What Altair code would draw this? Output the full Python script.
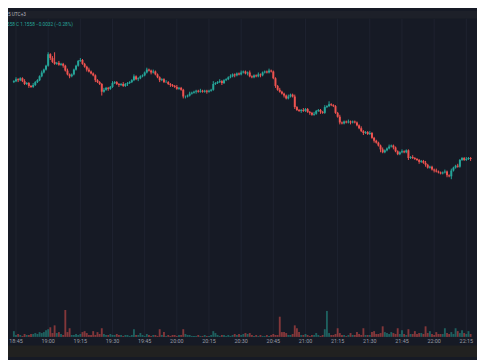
import altair as alt
import pandas as pd

# ---- data (1-minute candles, 18:44 .. 22:17) ----
start_minute = 44  # minutes after 18:00
first_open = 1.15660
closes = [
    1.15661, 1.15663, 1.15662, 1.15664, 1.15661, 1.15658, 1.15659, 1.15656, 1.15655, 1.15657,
    1.15660, 1.15662, 1.15666, 1.15670, 1.15673, 1.15677, 1.15689, 1.15685, 1.15681, 1.15679,
    1.15680, 1.15678, 1.15679, 1.15677, 1.15672, 1.15668, 1.15666, 1.15668, 1.15673, 1.15677,
    1.15682, 1.15683, 1.15679, 1.15676, 1.15673, 1.15671, 1.15669, 1.15667, 1.15662, 1.15660,
    1.15658, 1.15650, 1.15652, 1.15654, 1.15653, 1.15655, 1.15659, 1.15660, 1.15658, 1.15657,
    1.15658, 1.15656, 1.15658, 1.15659, 1.15660, 1.15662, 1.15666, 1.15663, 1.15664, 1.15666,
    1.15667, 1.15670, 1.15673, 1.15672, 1.15670, 1.15671, 1.15668, 1.15665, 1.15662, 1.15663,
    1.15660, 1.15660, 1.15658, 1.15657, 1.15656, 1.15655, 1.15653, 1.15654, 1.15652, 1.15645,
    1.15645, 1.15646, 1.15648, 1.15649, 1.15650, 1.15651, 1.15650, 1.15651, 1.15650, 1.15651,
    1.15650, 1.15651, 1.15652, 1.15658, 1.15659, 1.15660, 1.15661, 1.15659, 1.15662, 1.15663,
    1.15665, 1.15666, 1.15668, 1.15667, 1.15669, 1.15668, 1.15670, 1.15671, 1.15669, 1.15670,
    1.15666, 1.15665, 1.15667, 1.15666, 1.15668, 1.15667, 1.15670, 1.15671, 1.15670, 1.15672,
    1.15671, 1.15664, 1.15656, 1.15652, 1.15650, 1.15648, 1.15646, 1.15643, 1.15645, 1.15647,
    1.15645, 1.15634, 1.15631, 1.15630, 1.15631, 1.15630, 1.15632, 1.15629, 1.15628, 1.15626,
    1.15627, 1.15630, 1.15631, 1.15629, 1.15628, 1.15634, 1.15635, 1.15637, 1.15636, 1.15635,
    1.15628, 1.15624, 1.15618, 1.15617, 1.15619, 1.15618, 1.15619, 1.15618, 1.15619, 1.15618,
    1.15615, 1.15612, 1.15609, 1.15607, 1.15608, 1.15606, 1.15607, 1.15602, 1.15599, 1.15597,
    1.15594, 1.15590, 1.15587, 1.15589, 1.15591, 1.15593, 1.15594, 1.15592, 1.15588, 1.15585,
    1.15587, 1.15588, 1.15587, 1.15589, 1.15581, 1.15582, 1.15581, 1.15580, 1.15579, 1.15577,
    1.15578, 1.15576, 1.15574, 1.15571, 1.15572, 1.15569, 1.15568, 1.15567, 1.15566, 1.15565,
    1.15566, 1.15567, 1.15563, 1.15562, 1.15568, 1.15571, 1.15573, 1.15572, 1.15579, 1.15581,
    1.15579, 1.15580, 1.15581, 1.15580,
]
# wick lengths above / below the body, in points (0.00001)
upper_wick = [
    1, 2, 1, 1, 1, 2, 1, 1, 1, 2,  1, 1, 1, 2, 1, 1, 2, 1, 2, 10,
    1, 2, 1, 1, 1, 2, 1, 1, 1, 1,  1, 2, 1, 1, 1, 2, 1, 1, 1, 1,
    1, 1, 2, 1, 1, 1, 2, 1, 1, 1,  1, 2, 1, 1, 1, 1, 2, 1, 1, 1,
    1, 1, 2, 1, 1, 2, 1, 1, 1, 1,  1, 2, 1, 1, 1, 1, 2, 1, 1, 1,
    1, 1, 2, 1, 1, 1, 1, 2, 1, 1,  1, 1, 1, 3, 1, 1, 2, 1, 1, 1,
    1, 2, 1, 1, 1, 1, 2, 1, 1, 1,  2, 1, 1, 1, 2, 1, 1, 1, 1, 2,
    1, 1, 1, 1, 2, 1, 1, 1, 2, 1,  1, 2, 1, 1, 1, 2, 1, 1, 1, 1,
    2, 1, 1, 1, 1, 2, 1, 3, 1, 1,  1, 1, 2, 1, 1, 1, 2, 1, 1, 1,
    1, 1, 2, 1, 1, 1, 2, 1, 1, 1,  1, 1, 2, 1, 1, 2, 1, 1, 1, 1,
    1, 2, 1, 1, 1, 1, 2, 1, 1, 1,  1, 1, 2, 1, 1, 1, 1, 2, 1, 1,
    1, 2, 1, 1, 2, 1, 1, 2, 1, 1,  1, 2, 1, 1,
]
lower_wick = [
    1, 1, 2, 1, 1, 1, 1, 2, 1, 1,  1, 1, 1, 1, 1, 1, 1, 2, 1, 1,
    1, 1, 1, 2, 1, 1, 2, 1, 1, 1,  1, 1, 1, 1, 2, 1, 1, 1, 2, 1,
    1, 4, 1, 1, 2, 1, 1, 1, 1, 2,  1, 1, 1, 2, 1, 1, 1, 1, 2, 1,
    1, 1, 1, 1, 2, 1, 1, 1, 2, 1,  1, 1, 1, 2, 1, 1, 1, 1, 1, 2,
    2, 1, 1, 1, 1, 2, 1, 1, 1, 1,  2, 1, 1, 1, 1, 1, 1, 2, 1, 1,
    1, 1, 1, 2, 1, 1, 1, 1, 1, 2,  1, 1, 1, 1, 1, 2, 1, 1, 1, 1,
    1, 1, 2, 1, 1, 1, 2, 1, 1, 1,  1, 2, 1, 1, 2, 1, 1, 1, 2, 1,
    1, 1, 1, 2, 1, 1, 1, 1, 1, 1,  1, 1, 2, 1, 1, 1, 1, 2, 1, 1,
    1, 1, 1, 2, 1, 1, 1, 1, 2, 1,  1, 3, 1, 1, 1, 1, 1, 2, 1, 1,
    1, 1, 1, 1, 2, 1, 1, 1, 1, 2,  1, 1, 2, 1, 1, 1, 2, 1, 1, 1,
    1, 1, 2, 1, 3, 1, 1, 1, 1, 1,  1, 1, 1, 2,
]
volumes = [
    6, 2, 3, 2, 1, 3, 2, 2, 3, 3,  4, 3, 5, 4, 5, 7, 8, 10, 4, 12,
    4, 5, 3, 2, 28, 5, 9, 2, 2, 3,  2, 3, 5, 6, 4, 2, 2, 6, 2, 5,
    3, 9, 3, 2, 2, 3, 2, 2, 3, 2,  2, 1, 2, 2, 1, 2, 8, 2, 2, 4,
    2, 1, 3, 2, 1, 2, 2, 1, 8, 2,  5, 1, 2, 1, 2, 2, 1, 2, 2, 8,
    3, 2, 2, 1, 1, 1, 2, 1, 1, 2,  1, 1, 2, 6, 4, 2, 1, 2, 2, 1,
    2, 1, 2, 3, 2, 3, 2, 3, 4, 3,  4, 2, 1, 2, 1, 2, 1, 1, 2, 1,
    2, 3, 2, 2, 21, 5, 5, 4, 2, 2,  3, 12, 9, 5, 2, 2, 3, 2, 1, 2,
    2, 4, 2, 1, 2, 8, 27, 4, 2, 2,  3, 9, 4, 2, 2, 1, 2, 4, 2, 2,
    5, 3, 2, 9, 2, 2, 2, 5, 6, 3,  3, 4, 11, 5, 4, 3, 5, 4, 3, 9,
    3, 7, 3, 2, 8, 3, 3, 6, 3, 4,  4, 3, 11, 4, 6, 3, 2, 5, 3, 3,
    3, 9, 4, 3, 5, 3, 9, 6, 4, 7,  4, 3, 6, 3,
]
tick_minutes = [45, 60, 75, 90, 105, 120, 135, 150, 165, 180, 195, 210, 225, 240, 255]
tick_labels = ["18:45", "19:00", "19:15", "19:30", "19:45", "20:00", "20:15", "20:30",
               "20:45", "21:00", "21:15", "21:30", "21:45", "22:00", "22:15"]
header_text = "5 UTC+3"
legend_text = "558  C 1.1558  −0.0032 (−0.28%)"

# ---- build table ----
opens = [first_open] + closes[:-1]
rows = []
for i, c in enumerate(closes):
    o = opens[i]
    rows.append({
        "t": start_minute + i,
        "open": o,
        "close": c,
        "high": max(o, c) + upper_wick[i] * 1e-5,
        "low": min(o, c) - lower_wick[i] * 1e-5,
        "vol": volumes[i],
        "dir": "up" if c >= o else "down",
    })
df = pd.DataFrame(rows)
ticks = pd.DataFrame({"t": tick_minutes, "label": tick_labels})

W, H = 477, 352
UP, DOWN = "#26a69a", "#ef5350"
BG = "#161a25"

xs = alt.Scale(domain=[43.56, 257.69], nice=False, zero=False)
ys = alt.Scale(domain=[1.15374, 1.15734], nice=False, zero=False)
vs = alt.Scale(domain=[0, 339], range=[331.5, 0], nice=False)
cs = alt.Scale(domain=["up", "down"], range=[UP, DOWN])

X = alt.X("t:Q", scale=xs, axis=None)
C = alt.Color("dir:N", scale=cs, legend=None)

one = pd.DataFrame({"a": [0]})
header_band = alt.Chart(one).mark_rect(color="#1d2029").encode(
    x=alt.value(0), x2=alt.value(W), y=alt.value(0), y2=alt.value(7.8))
bottom_band = alt.Chart(one).mark_rect(color="#212120").encode(
    x=alt.value(0), x2=alt.value(W), y=alt.value(340.3), y2=alt.value(H))

vgrid = alt.Chart(ticks).mark_rule(color="#1f2330", strokeWidth=1).encode(
    x=X, y=alt.value(7.8), y2=alt.value(331.5))

vol = alt.Chart(df).mark_bar(size=1.9, opacity=0.5).encode(
    x=X, y=alt.Y("vol:Q", scale=vs, axis=None), color=C)

wicks = alt.Chart(df).mark_rule(strokeWidth=1).encode(
    x=X, y=alt.Y("low:Q", scale=ys, axis=None), y2="high:Q", color=C)

bodies = alt.Chart(df).mark_bar(size=2.0).encode(
    x=X, y=alt.Y("open:Q", scale=ys, axis=None), y2="close:Q", color=C)

labels = alt.Chart(ticks).mark_text(
    font="Roboto", fontSize=5.5, color="#9a9da6", baseline="middle", align="center"
).encode(x=X, y=alt.value(335.6), text="label:N")

htext = alt.Chart(pd.DataFrame({"s": [header_text]})).mark_text(
    font="Roboto", fontSize=4.8, color="#b2b5be", align="left", baseline="middle"
).encode(x=alt.value(0), y=alt.value(4), text="s:N")

ltext = alt.Chart(pd.DataFrame({"s": [legend_text]})).mark_text(
    font="Roboto", fontSize=4.8, color="#26a69a", align="left", baseline="middle"
).encode(x=alt.value(-1), y=alt.value(14.2), text="s:N")

chart = alt.layer(
    header_band, bottom_band, vgrid, vol, wicks, bodies, labels, htext, ltext
).resolve_scale(y="independent").properties(
    width=W, height=H, background=BG, padding=0, autosize="none"
).configure_view(stroke=None)

chart.save("out.html", embed_options={"renderer": "svg", "actions": False})
